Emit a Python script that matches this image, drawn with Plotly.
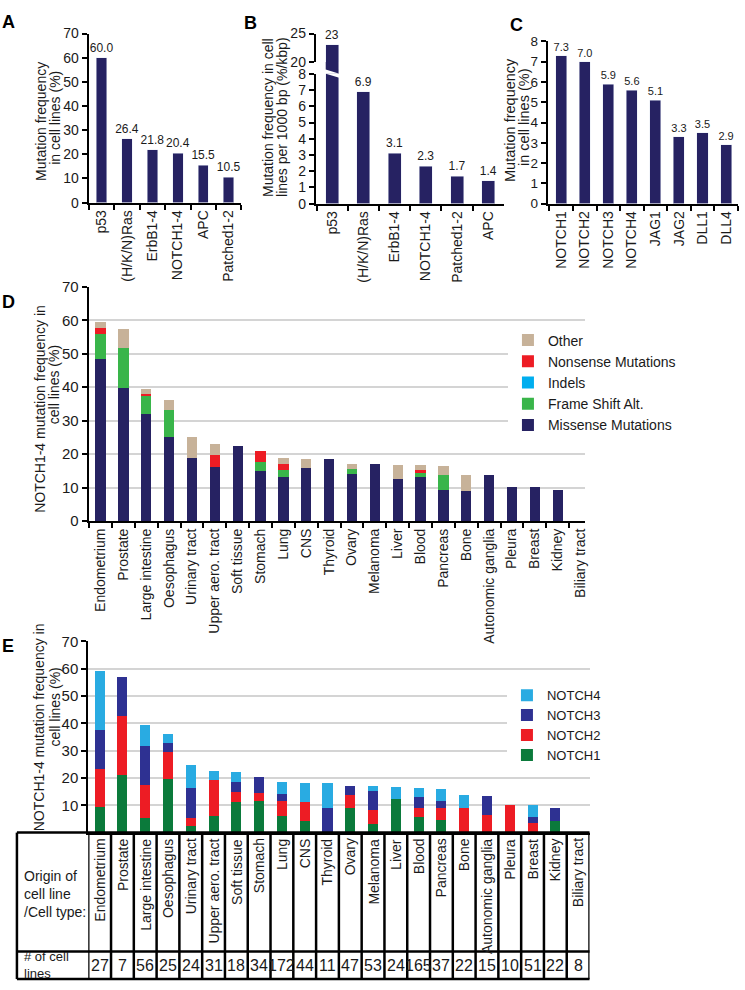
import plotly.graph_objects as go

# ---------------- data ----------------
genes_a = ["p53", "(H/K/N)Ras", "ErbB1-4", "NOTCH1-4", "APC", "Patched1-2"]
freq_a = [60.0, 26.4, 21.8, 20.4, 15.5, 10.5]

genes_b = ["p53", "(H/K/N)Ras", "ErbB1-4", "NOTCH1-4", "Patched1-2", "APC"]
freq_b = [23, 6.9, 3.1, 2.3, 1.7, 1.4]

genes_c = ["NOTCH1", "NOTCH2", "NOTCH3", "NOTCH4", "JAG1", "JAG2", "DLL1", "DLL4"]
freq_c = [7.3, 7.0, 5.9, 5.6, 5.1, 3.3, 3.5, 2.9]

tissues = ["Endometrium", "Prostate", "Large intestine", "Oesophagus", "Urinary tract",
           "Upper aero. tract", "Soft tissue", "Stomach", "Lung", "CNS", "Thyroid", "Ovary",
           "Melanoma", "Liver", "Blood", "Pancreas", "Bone", "Autonomic ganglia", "Pleura",
           "Breast", "Kidney", "Biliary tract"]

missense   = [48.5, 39.9, 32.1, 25.0, 18.8, 16.3, 22.4, 15.0, 13.2, 15.9, 18.5, 14.0, 17.1, 12.5, 13.3, 9.4, 9.1, 13.7, 10.1, 10.1, 9.2, 0]
frameshift = [7.3, 11.8, 5.2, 8.3, 0, 0, 0, 2.6, 2.0, 0, 0, 1.6, 0, 0, 1.0, 4.5, 0, 0, 0, 0, 0, 0]
indels     = [0, 0, 0, 0, 0, 0, 0, 0, 0, 0, 0, 0, 0, 0, 0, 0, 0, 0, 0, 0, 0, 0]
nonsense   = [1.9, 0, 0.6, 0, 0, 3.3, 0, 3.2, 1.8, 0, 0, 0, 0, 0, 1.0, 0, 0, 0, 0, 0, 0, 0]
other      = [1.7, 5.7, 1.5, 2.9, 6.4, 3.3, 0, 0, 1.8, 2.6, 0, 1.6, 0, 4.3, 1.4, 2.5, 4.8, 0, 0, 0, 0, 0]

notch1 = [9.3, 21.0, 5.2, 19.6, 2.5, 6.2, 11.1, 11.7, 6.2, 4.4, 0, 9.0, 3.3, 12.3, 5.6, 4.6, 0, 0, 0, 0, 4.4, 0]
notch2 = [14.0, 21.7, 12.2, 9.9, 2.9, 12.9, 3.6, 2.9, 5.3, 6.8, 0, 4.7, 4.9, 0, 3.5, 4.3, 8.9, 6.5, 10.0, 3.7, 0, 0]
notch3 = [14.3, 14.4, 14.2, 3.2, 11.1, 0, 3.7, 5.9, 2.8, 0, 8.9, 3.2, 6.9, 0, 4.1, 2.6, 0, 6.8, 0, 2.1, 4.6, 0]
notch4 = [21.7, 0, 7.7, 3.3, 8.4, 3.6, 3.8, 0, 4.3, 6.8, 9.1, 0, 1.8, 4.3, 3.3, 4.6, 4.7, 0, 0, 4.2, 0, 0]

n_cell_lines = [27, 7, 56, 25, 24, 31, 18, 34, 172, 44, 11, 47, 53, 24, 165, 37, 22, 15, 10, 51, 22, 8]

# ---------------- helpers ----------------
W, H = 745, 990
def fx(p): return p / W
def fy(p): return 1 - p / H

FONT = "Liberation Sans, Arial, sans-serif"
TXT = "#1a1a1a"
NAVY = "#262262"

def txt(size):
    return dict(size=size, family=FONT, color=TXT)

fig = go.Figure()

# Panel A
fig.add_trace(go.Bar(x=genes_a, y=freq_a, xaxis="x", yaxis="y", marker_color=NAVY, width=0.41,
                     text=[f"{v:.1f}" for v in freq_a], textposition="outside", cliponaxis=False,
                     constraintext="none", textfont=txt(12), showlegend=False))
# Panel B lower (0-8)
fig.add_trace(go.Bar(x=genes_b, y=freq_b, xaxis="x2", yaxis="y2", marker_color=NAVY, width=0.41,
                     text=[f"{v:g}" if v < 8 else "" for v in freq_b], textposition="outside",
                     constraintext="none", textfont=txt(12), showlegend=False))
# Panel B upper (20-25)
fig.add_trace(go.Bar(x=genes_b, y=freq_b, xaxis="x3", yaxis="y3", marker_color=NAVY, width=0.41,
                     showlegend=False))
# Panel C
fig.add_trace(go.Bar(x=genes_c, y=freq_c, xaxis="x4", yaxis="y4", marker_color=NAVY, width=0.47,
                     text=[f"{v:.1f}" for v in freq_c], textposition="outside", cliponaxis=False,
                     constraintext="none", textfont=txt(11), showlegend=False))

# Panel D
d_series = [("Missense Mutations", missense, "#262262"),
            ("Frame Shift Alt.", frameshift, "#39b54a"),
            ("Indels", indels, "#00aeef"),
            ("Nonsense Mutations", nonsense, "#ed1c24"),
            ("Other", other, "#c7b299")]
for name, vals, col in d_series:
    fig.add_trace(go.Bar(x=tissues, y=vals, name=name, xaxis="x5", yaxis="y5", marker_color=col,
                         width=0.45, legend="legend", marker_line_width=0))

# Panel E
e_series = [("NOTCH1", notch1, "#0b7a3b"),
            ("NOTCH2", notch2, "#ed1c24"),
            ("NOTCH3", notch3, "#2e3192"),
            ("NOTCH4", notch4, "#29abe2")]
for name, vals, col in e_series:
    fig.add_trace(go.Bar(x=tissues, y=vals, name=name, xaxis="x6", yaxis="y6", marker_color=col,
                         width=0.44, legend="legend2", marker_line_width=0))

# ---------------- axes ----------------
base = dict(showline=True, linecolor="black", linewidth=2, ticks="outside", ticklen=5, tickwidth=2,
            tickcolor="black", tickfont=txt(14), showgrid=False, zeroline=False, fixedrange=True)
xcat = dict(base, type="category", tickson="boundaries", tickangle=-90)

grid_minor = dict(tickvals=[10, 20, 30, 40, 50, 60], showgrid=True, gridcolor="#d4d4d4", gridwidth=1.5, ticks="")

layout_axes = dict(
    xaxis=dict(xcat, domain=[fx(89), fx(242.3)], anchor="y", range=[-0.51, 5.5]),
    yaxis=dict(base, domain=[fy(197), fy(25)], anchor="x", range=[0, 70], dtick=10),
    xaxis2=dict(xcat, domain=[fx(317), fx(506)], anchor="y2", range=[-0.525, 5.5]),
    yaxis2=dict(base, domain=[fy(198), fy(66)], anchor="x2", range=[0, 8], dtick=1),
    xaxis3=dict(domain=[fx(317), fx(506)], anchor="y3", type="category", range=[-0.525, 5.5],
                visible=False, fixedrange=True),
    yaxis3=dict(base, domain=[fy(54), fy(25)], anchor="x3", range=[20, 25], tickvals=[20, 25]),
    xaxis4=dict(xcat, domain=[fx(550), fx(740.8)], anchor="y4", range=[-0.572, 7.5]),
    yaxis4=dict(base, domain=[fy(198), fy(33)], anchor="x4", range=[0, 8], dtick=1, tickfont=txt(13.5)),
    xaxis5=dict(xcat, domain=[fx(89), fx(587)], anchor="y5", range=[-0.52, 21.18]),
    yaxis5=dict(base, domain=[fy(521), fy(282.7)], anchor="x5", range=[0, 70], dtick=10,
                tickfont=txt(15), minor=grid_minor),
    xaxis6=dict(base, type="category", domain=[fx(88.6), fx(591.9)], anchor="y6", range=[-0.5, 21.5],
                ticks="", showticklabels=False),
    yaxis6=dict(base, domain=[fy(838), fy(643.4)], anchor="x6", range=[0, 70],
                tickvals=[10, 20, 30, 40, 50, 60, 70], tickfont=txt(15), minor=grid_minor),
)

fig.update_layout(
    width=W, height=H, autosize=False,
    margin=dict(l=0, r=0, t=0, b=0, pad=0),
    paper_bgcolor="white", plot_bgcolor="white",
    barmode="stack",
    font=dict(family=FONT, size=14, color=TXT),
    legend=dict(x=fx(510), y=fy(321), xanchor="left", yanchor="top", bgcolor="white",
                traceorder="reversed", font=txt(14), itemwidth=30),
    legend2=dict(x=fx(509), y=fy(683), xanchor="left", yanchor="top", bgcolor="white",
                 traceorder="reversed", font=txt(13), itemwidth=30),
    **layout_axes,
)

ann = []
# panel letters (top-left anchored)
for letter, (lx, ly) in {"A": (0, 1), "B": (243, 2), "C": (510, 4), "D": (0, 286), "E": (0, 636)}.items():
    ann.append(dict(text=f"<b>{letter}</b>", x=fx(lx), y=fy(ly), xref="paper", yref="paper",
                    xanchor="left", yanchor="top", showarrow=False,
                    font=dict(size=18, family=FONT, color="black")))
# y axis titles, one annotation per line
titles = [("Mutation frequency", 41, 114, 14), ("in cell lines (%)", 55, 111, 14),
          ("Mutation frequency in cell", 269, 110, 14), ("lines per 1000 bp (%/kbp)", 283, 110, 14),
          ("Mutation frequency", 512, 113, 14.5), ("in cell lines (%)", 526, 110, 14.5),
          ("NOTCH1-4 mutation frequency in", 40, 407, 14), ("cell lines (%)", 55, 382, 14),
          ("NOTCH1-4 mutation frequency in", 40, 731, 14), ("cell lines (%)", 55, 710, 14)]
for t, tx, ty, s in titles:
    ann.append(dict(text=t, x=fx(tx), y=fy(ty), xref="paper", yref="paper", textangle=-90,
                    xanchor="center", yanchor="middle", showarrow=False, font=txt(s)))
# B upper label
for g, v in zip(genes_b, freq_b):
    if v > 8:
        ann.append(dict(text=f"{v:g}", x=g, y=v, xref="x3", yref="y3", xanchor="center",
                        yanchor="bottom", showarrow=False, yshift=1, font=txt(12)))

# table in panel E
ann.append(dict(text="Origin of<br>cell line<br>/Cell type:", x=fx(22), y=fy(900), xref="paper",
                yref="paper", xanchor="left", yanchor="middle", align="left", showarrow=False,
                font=txt(14)))
ann.append(dict(text="# of cell<br>lines", x=fx(22), y=fy(973), xref="paper", yref="paper",
                xanchor="left", yanchor="middle", align="left", showarrow=False, font=txt(13)))
for t, n in zip(tissues, n_cell_lines):
    ann.append(dict(text=t, x=t, y=fy(842), xref="x6", yref="paper", textangle=-90,
                    xanchor="center", yanchor="top", showarrow=False, font=txt(14)))
    ann.append(dict(text=str(n), x=t, y=fy(973), xref="x6", yref="paper", xanchor="center",
                    yanchor="middle", showarrow=False, font=txt(16)))

shapes = []
LW = 2.5
x_left = fx(17)
x_right = fx(591.9)
for yy in (838, 959, 987):
    shapes.append(dict(type="line", xref="paper", yref="paper", x0=x_left, x1=x_right,
                       y0=fy(yy), y1=fy(yy), line=dict(color="black", width=LW)))
shapes.append(dict(type="line", xref="paper", yref="paper", x0=x_left, x1=x_left, y0=fy(838), y1=fy(987),
                   line=dict(color="black", width=LW)))
for i in range(len(tissues) + 1):
    shapes.append(dict(type="line", xref="x6", yref="paper", x0=i - 0.5, x1=i - 0.5, y0=fy(838), y1=fy(987),
                       line=dict(color="black", width=LW)))

# axis break on panel B (slanted cut)
w = 0.41
for i, v in enumerate(freq_b):
    if v > 8:
        shapes.append(dict(type="path", xref="x2", yref="paper",
                           path=f"M {i - w/2 - 0.02},{fy(65.5)} L {i + w/2 + 0.02},{fy(65.5)} L {i + w/2 + 0.02},{fy(70)} Z",
                           fillcolor="white", line=dict(width=0)))
        shapes.append(dict(type="path", xref="x3", yref="paper",
                           path=f"M {i - w/2},{fy(54)} L {i + w/2},{fy(54)} L {i + w/2},{fy(65.5)} L {i - w/2},{fy(61.5)} Z",
                           fillcolor=NAVY, line=dict(width=0)))

fig.update_layout(annotations=ann, shapes=shapes)
fig.write_html("out.html", config={"displayModeBar": False},
               post_script="document.body.style.margin='0px';")
